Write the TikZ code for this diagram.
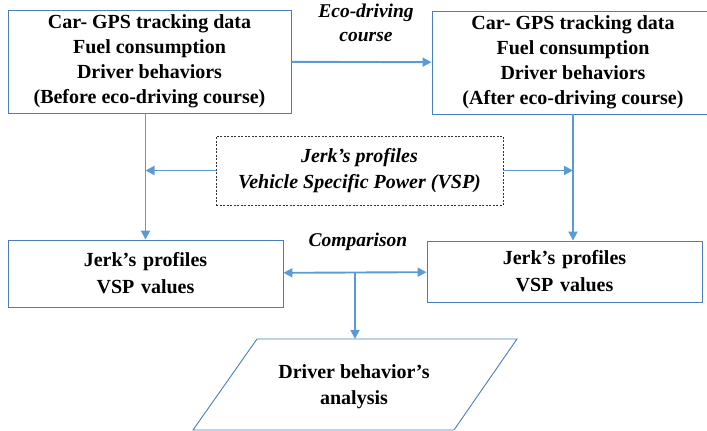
\documentclass[tikz,border=0pt]{standalone}
\usepackage{fontspec}
\setmainfont{Liberation Serif}
\usepackage{tikz}
\usetikzlibrary{arrows.meta}
\definecolor{lineblue}{HTML}{5B9BD5}
\definecolor{boxblue}{HTML}{4A7EBB}

\begin{document}
\begin{tikzpicture}[x=1pt,y=-1pt,
			data node/.style={rectangle,draw=boxblue,line width=0.9pt,align=center,
				font=\fontsize{20}{25}\selectfont\bfseries,inner sep=0pt},
			value node/.style={rectangle,draw=boxblue,line width=0.9pt,align=center,
				font=\fontsize{20}{27}\selectfont\bfseries,inner sep=0pt,
				minimum width=275,text width=270},
			note node/.style={align=center,inner sep=0pt,
				font=\fontsize{19.5}{24}\selectfont\bfseries\itshape},
			flow/.style={draw=lineblue,line width=1.9pt,
				-{Triangle[length=9pt,width=9pt]}},
			both flow/.style={flow,{Triangle[length=9pt,width=9pt]}-{Triangle[length=9pt,width=9pt]}}]
			
			\clip (0,0) rectangle (707,431);
			
			\node[data node,minimum width=283,minimum height=103] (before) at (149.5,61.5)
				{Car- GPS tracking data\\Fuel consumption\\Driver behaviors\\(Before eco-driving course)};
			\node[data node,minimum width=282,minimum height=103] (after) at (573,62.5)
				{Car- GPS tracking data\\Fuel consumption\\Driver behaviors\\(After eco-driving course)};
			\node[note node] (course) at (366,23) {Eco-driving\\course};
			
			\node[rectangle,draw=black!80,line width=0.7pt,dash pattern=on 2pt off 1.5pt,
				minimum width=287,minimum height=69,align=center,inner sep=0pt,
				font=\fontsize{20}{26}\selectfont\bfseries\itshape] (vsp) at (359.5,170.5)
				{Jerk's profiles\\Vehicle Specific Power (VSP)};
			
			\node[value node,minimum height=67] (jerkA) at (145.5,273.5) {Jerk's profiles\\VSP values};
			\node[value node,minimum height=61] (jerkB) at (564.5,271.5) {Jerk's profiles\\VSP values};
			\node[note node] (compare) at (358,242) {Comparison};
			
			% output parallelogram
			\coordinate (p1) at (257,339);
			\coordinate (p2) at (517,339);
			\coordinate (p3) at (454,430);
			\coordinate (p4) at (193,430);
			\draw[boxblue,line width=0.9pt] (p1) -- (p2) -- (p3) -- (p4) -- cycle;
			\node[align=center,font=\fontsize{20}{26}\selectfont\bfseries] (analysis) at (354,387)
				{Driver behavior's\\analysis};
			\coordinate (split) at (355,273);
			\coordinate (ptop) at (355,339);
			
			\path[flow] (before) -- (after);
			\path[flow] (before.south -| jerkA) -- (jerkA.north);
			\path[flow] (after.south) -- (after.south |- jerkB.north);
			\path[flow] (vsp.west) -- (vsp.west -| jerkA);
			\path[flow] (vsp.east) -- (vsp.east -| after);
			\path[both flow] (jerkA) -- (jerkB);
			\path[flow] (split) -- (ptop);
			
		\end{tikzpicture}
\end{document}
